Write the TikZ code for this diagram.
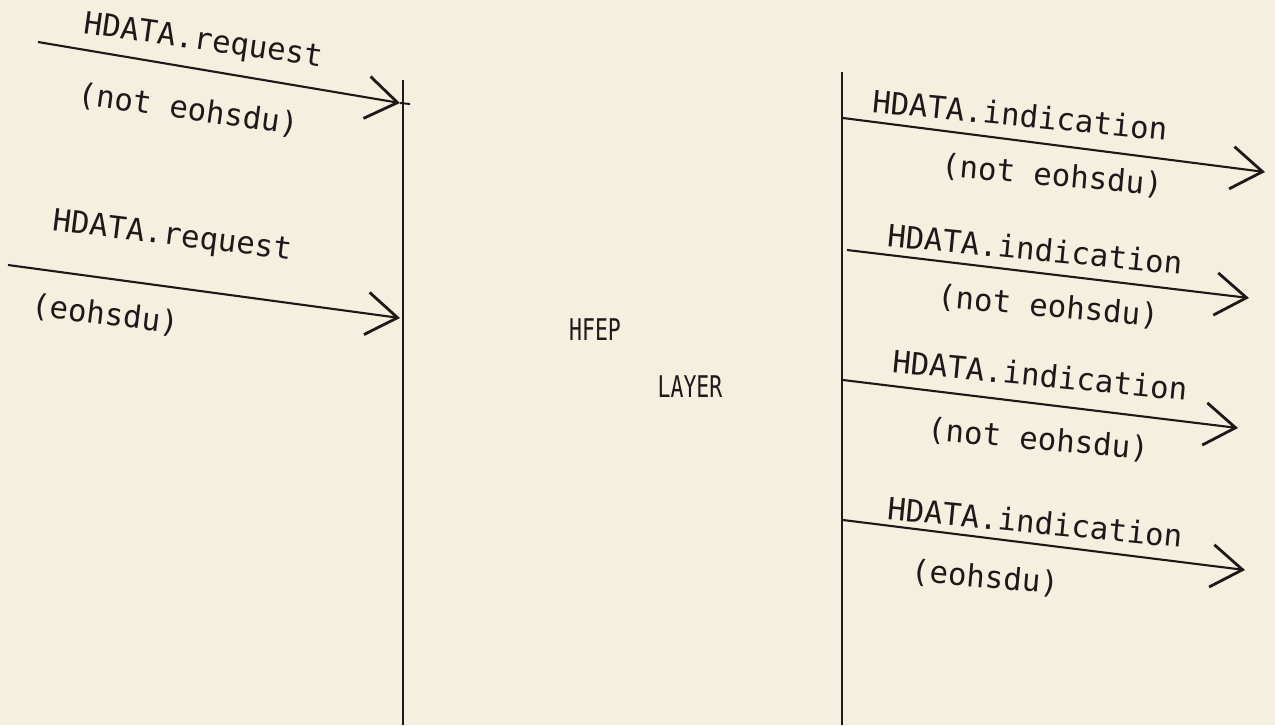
\documentclass[tikz,border=0pt]{standalone}
\usepackage{fontspec}
\setmonofont{DejaVu Sans Mono}
\usetikzlibrary{arrows.meta}
\definecolor{paper}{RGB}{245,239,224}
\definecolor{ink}{RGB}{30,25,25}
\begin{document}
\begin{tikzpicture}[x=0.02cm,y=-0.02cm,
  lbl/.style={font=\ttfamily\fontsize{17.5}{17.5}\selectfont,text=ink,inner sep=0pt,anchor=center},
  lyr/.style={font=\ttfamily\fontsize{17}{17}\selectfont,text=ink,inner sep=0pt,xscale=0.72},
  life/.style={draw=ink,line width=1.1pt},
  msg/.style={draw=ink,line width=1.2pt,-{Straight Barb[length=0.62cm,width=0.85cm,line width=1.6pt]}}]
\fill[paper] (0,0) rectangle (1275,725);
\useasboundingbox (0,0) rectangle (1275,725);
% lifelines
\coordinate (LT) at (403,80);  \coordinate (LB) at (403,725);
\coordinate (RT) at (842,72);  \coordinate (RB) at (842,725);
\draw[life] (LT) -- (LB);
\draw[life] (RT) -- (RB);
% left messages
\coordinate (a1) at (38,42);   \coordinate (a1e) at (400,103);
\coordinate (a2) at (8,265);   \coordinate (a2e) at (400,318);
\draw[msg] (a1) -- (a1e);
\draw[msg] (a2) -- (a2e);
\draw[life] (a1e) -- (410,104);
% right messages
\coordinate (b1) at (843,118); \coordinate (b1e) at (1265,172);
\coordinate (b2) at (847,250); \coordinate (b2e) at (1249,298);
\coordinate (b3) at (843,380); \coordinate (b3e) at (1238,428);
\coordinate (b4) at (843,520); \coordinate (b4e) at (1245,570);
\draw[msg] (b1) -- (b1e);
\draw[msg] (b2) -- (b2e);
\draw[msg] (b3) -- (b3e);
\draw[msg] (b4) -- (b4e);
% labels
\node[lbl,rotate=-8] (t1) at (203,42) {HDATA.request};
\node[lbl,rotate=-8] (t1b) at (188,110) {(not eohsdu)};
\node[lbl,rotate=-7] (t2) at (172,237) {HDATA.request};
\node[lbl,rotate=-7] (t2b) at (105,315) {(eohsdu)};
\node[lbl,rotate=-5.5] (u1) at (1020,115) {HDATA.indication};
\node[lbl,rotate=-5] (u1b) at (1052,176) {(not eohsdu)};
\node[lbl,rotate=-5.5] (u2) at (1035,249) {HDATA.indication};
\node[lbl,rotate=-5] (u2b) at (1048,307) {(not eohsdu)};
\node[lbl,rotate=-5.5] (u3) at (1040,375) {HDATA.indication};
\node[lbl,rotate=-5] (u3b) at (1038,440) {(not eohsdu)};
\node[lbl,rotate=-5.5] (u4) at (1035,522) {HDATA.indication};
\node[lbl,rotate=-5] (u4b) at (985,578) {(eohsdu)};
\node[lyr] (hfep) at (595,330) {HFEP};
\node[lyr] (layer) at (690,387) {LAYER};
\end{tikzpicture}
\end{document}
